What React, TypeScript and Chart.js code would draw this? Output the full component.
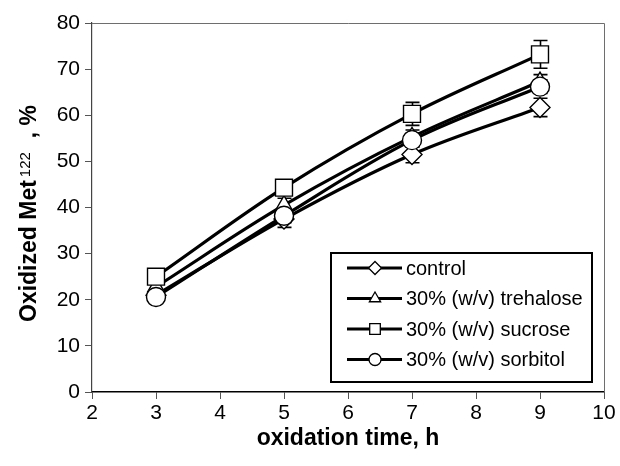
import { useEffect, useRef } from "react";
import { Chart, registerables } from "chart.js";

Chart.register(...registerables);

// Oxidation time (h) at which samples were taken
const hours = [3, 5, 7, 9];

const seriesNames = [
  "control",
  "30% (w/v) trehalose",
  "30% (w/v) sucrose",
  "30% (w/v) sorbitol",
];

// Oxidized Met122 (%) per formulation, with standard deviations
const control = [21, 37.5, 51.5, 61.7];
const controlErr = [0.8, 1.8, 1.8, 2.0];
const trehalose = [22.8, 40.5, 55.3, 67.3];
const trehaloseErr = [0.8, 1.5, 1.5, 1.5];
const sucrose = [25, 44.3, 60.3, 73.2];
const sucroseErr = [0.8, 1.0, 2.5, 3.0];
const sorbitol = [20.6, 38.2, 54.6, 66.2];
const sorbitolErr = [0.8, 1.5, 1.5, 1.5];

const seriesValues = [control, trehalose, sucrose, sorbitol];
const seriesErrors = [controlErr, trehaloseErr, sucroseErr, sorbitolErr];

const xTicks = [2, 3, 4, 5, 6, 7, 8, 9, 10];
const yTicks = [0, 10, 20, 30, 40, 50, 60, 70, 80];

const markerStyles = ["rectRot", "triangle", "rect", "circle"] as const;
const markerRadii = [10, 9.5, 12, 9.5];
const legendRadii = [6.5, 6.5, 7.5, 6];

const FONT = "'Liberation Sans', Arial, sans-serif";

const errorBarsPlugin = {
  id: "errorBars",
  beforeDatasetsDraw(chart: any) {
    const { ctx, scales } = chart;
    const xs = scales.x;
    const ys = scales.y;
    ctx.save();
    ctx.strokeStyle = "#000";
    ctx.lineWidth = 1.6;
    seriesValues.forEach((vals, i) => {
      vals.forEach((v, j) => {
        const e = seriesErrors[i][j];
        const px = Math.round(xs.getPixelForValue(hours[j])) + 0.5;
        const top = ys.getPixelForValue(v + e);
        const bot = ys.getPixelForValue(v - e);
        ctx.beginPath();
        ctx.moveTo(px, top);
        ctx.lineTo(px, bot);
        ctx.moveTo(px - 7, top);
        ctx.lineTo(px + 7, top);
        ctx.moveTo(px - 7, bot);
        ctx.lineTo(px + 7, bot);
        ctx.stroke();
      });
    });
    ctx.restore();
  },
};

const framePlugin = {
  id: "frame",
  afterDraw(chart: any) {
    const { ctx, chartArea } = chart;
    const { left, right, top } = chartArea;
    ctx.save();
    ctx.strokeStyle = "#6e6e6e";
    ctx.lineWidth = 1;
    ctx.beginPath();
    ctx.moveTo(left, Math.round(top) + 0.5);
    ctx.lineTo(Math.round(right) + 0.5, Math.round(top) + 0.5);
    ctx.lineTo(Math.round(right) + 0.5, chartArea.bottom);
    ctx.stroke();
    ctx.restore();
  },
};

// Rotated y-axis title with a superscript residue number
const yTitlePlugin = {
  id: "yTitle",
  afterDraw(chart: any) {
    const { ctx } = chart;
    const main = "Oxidized Met";
    const sup = "122";
    const tail = ", %";
    ctx.save();
    ctx.fillStyle = "#000";
    ctx.translate(36, 322);
    ctx.rotate(-Math.PI / 2);
    ctx.textBaseline = "alphabetic";
    ctx.textAlign = "left";
    ctx.font = `bold 23px ${FONT}`;
    const wMain = ctx.measureText(main).width;
    ctx.fillText(main, 0, 0);
    ctx.font = `15px ${FONT}`;
    ctx.fillText(sup, wMain + 3, -6);
    ctx.font = `bold 23px ${FONT}`;
    const wTail = ctx.measureText(tail).width;
    ctx.fillText(tail, 217 - wTail, 0);
    ctx.restore();
  },
};

function drawMarker(ctx: CanvasRenderingContext2D, style: string, r: number, x: number, y: number) {
  ctx.beginPath();
  if (style === "circle") {
    ctx.arc(x, y, r, 0, Math.PI * 2);
  } else if (style === "rect") {
    const s = r * Math.SQRT1_2;
    ctx.rect(x - s, y - s, 2 * s, 2 * s);
  } else if (style === "rectRot") {
    ctx.moveTo(x, y - r);
    ctx.lineTo(x + r, y);
    ctx.lineTo(x, y + r);
    ctx.lineTo(x - r, y);
    ctx.closePath();
  } else {
    const a = (2 * Math.PI) / 3;
    ctx.moveTo(x, y - r);
    ctx.lineTo(x + Math.sin(a) * r, y - Math.cos(a) * r);
    ctx.lineTo(x + Math.sin(2 * a) * r, y - Math.cos(2 * a) * r);
    ctx.closePath();
  }
  ctx.fillStyle = "#fff";
  ctx.fill();
  ctx.strokeStyle = "#000";
  ctx.stroke();
}

const legendPlugin = {
  id: "boxLegend",
  afterDraw(chart: any) {
    const { ctx } = chart;
    const bx = 331;
    const by = 253;
    const bw = 261;
    const bh = 129;
    ctx.save();
    ctx.fillStyle = "#fff";
    ctx.fillRect(bx, by, bw, bh);
    ctx.strokeStyle = "#000";
    ctx.lineWidth = 2;
    ctx.strokeRect(bx, by, bw, bh);
    seriesNames.forEach((name, i) => {
      const cy = by + 15 + i * 30.5;
      ctx.strokeStyle = "#000";
      ctx.lineWidth = 3;
      ctx.beginPath();
      ctx.moveTo(347, cy);
      ctx.lineTo(402, cy);
      ctx.stroke();
      ctx.lineWidth = 1.3;
      drawMarker(ctx, markerStyles[i], legendRadii[i], 375, cy);
      ctx.fillStyle = "#000";
      ctx.font = `20px ${FONT}`;
      ctx.textBaseline = "middle";
      ctx.textAlign = "left";
      ctx.fillText(name, 406, cy + 1);
    });
    ctx.restore();
  },
};

export default function App() {
  const canvasRef = useRef<HTMLCanvasElement | null>(null);

  useEffect(() => {
    const canvas = canvasRef.current;
    if (!canvas) return;

    const datasets = seriesNames.map((name, i) => ({
      label: name,
      data: hours.map((h, j) => ({ x: h, y: seriesValues[i][j] })),
      // later series are painted over earlier ones
      order: seriesNames.length - 1 - i,
      borderColor: "#000",
      borderWidth: 3.2,
      backgroundColor: "#fff",
      pointStyle: markerStyles[i],
      pointRadius: markerRadii[i],
      pointBorderWidth: 1.4,
      pointBorderColor: "#000",
      pointBackgroundColor: "#fff",
      tension: 0.35,
      fill: false,
    }));

    const chart = new Chart(canvas, {
      type: "line",
      data: { datasets },
      plugins: [errorBarsPlugin, framePlugin, yTitlePlugin, legendPlugin],
      options: {
        animation: false,
        responsive: false,
        maintainAspectRatio: false,
        layout: { padding: { top: 23, right: 16, left: 0, bottom: 0 } },
        plugins: {
          legend: { display: false },
          tooltip: { enabled: false },
        },
        scales: {
          x: {
            type: "linear",
            min: xTicks[0],
            max: xTicks[xTicks.length - 1],
            afterBuildTicks: (scale: any) => {
              scale.ticks = xTicks.map((v) => ({ value: v }));
            },
            afterFit: (scale: any) => {
              scale.height = 74;
            },
            grid: {
              display: true,
              drawOnChartArea: false,
              drawTicks: true,
              tickLength: 7,
              color: "#555",
            },
            border: { display: true, color: "#000", width: 1.5 },
            ticks: {
              color: "#000",
              font: { family: FONT, size: 21 },
              padding: 2,
              maxRotation: 0,
            },
            title: {
              display: true,
              text: "oxidation time, h",
              color: "#000",
              font: { family: FONT, size: 23, weight: "bold" },
              padding: { top: 0, bottom: 14 },
            },
          },
          y: {
            type: "linear",
            min: yTicks[0],
            max: yTicks[yTicks.length - 1],
            afterBuildTicks: (scale: any) => {
              scale.ticks = yTicks.map((v) => ({ value: v }));
            },
            afterFit: (scale: any) => {
              scale.width = 92;
            },
            grid: {
              display: true,
              drawOnChartArea: false,
              drawTicks: true,
              tickLength: 7,
              color: "#555",
            },
            border: { display: true, color: "#444", width: 1.2 },
            ticks: {
              color: "#000",
              font: { family: FONT, size: 21 },
              padding: 5,
            },
          },
        },
      },
    } as any);

    return () => chart.destroy();
  }, []);

  return (
    <div style={{ position: "fixed", left: 0, top: 0, width: 620, height: 466, background: "#fff" }}>
      <canvas ref={canvasRef} width={620} height={466} style={{ width: 620, height: 466 }} />
    </div>
  );
}
